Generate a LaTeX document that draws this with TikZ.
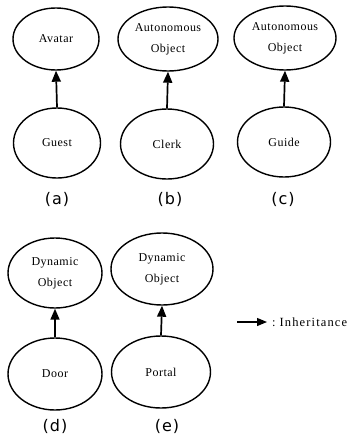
\documentclass[tikz,border=0pt]{standalone}
\usepackage{fontspec}
\setmainfont{Liberation Serif}
\newfontfamily\labfont[LetterSpace=6]{DejaVu Sans}
\newfontfamily\clsfont[LetterSpace=4]{Liberation Serif}
\newfontfamily\legfont[LetterSpace=9]{Liberation Serif}
\usetikzlibrary{arrows.meta,shapes.geometric}
\begin{document}
\begin{tikzpicture}[x=1pt,y=-1pt,
  cls/.style={draw,ellipse,line width=1.4pt,inner sep=0pt,align=center,font=\clsfont\fontsize{12}{21}\selectfont},
  inh/.style={line width=1.7pt,-{Triangle[length=11pt,width=9pt]}},
  sub/.style={font=\labfont\fontsize{16}{16}\selectfont}]
\useasboundingbox (0,0) rectangle (358,434);
% (a)
\node[cls,minimum width=86pt,minimum height=62pt] (avatar) at (56,39) {Avatar};
\node[cls,minimum width=87pt,minimum height=70pt] (guest) at (57,143) {Guest};
\draw[inh] (guest.north) -- (avatar.south);
\node[sub] (la) at (57,199) {(a)};
% (b)
\node[cls,minimum width=100pt,minimum height=64pt] (auto1) at (168,39) {Autonomous\\Object};
\node[cls,minimum width=93pt,minimum height=70pt] (clerk) at (167,144) {Clerk};
\draw[inh] (clerk.north) -- (auto1.south);
\node[sub] (lb) at (170,199) {(b)};
% (c)
\node[cls,minimum width=102pt,minimum height=64pt] (auto2) at (285,38) {Autonomous\\Object};
\node[cls,minimum width=93pt,minimum height=70pt] (guide) at (284,142) {Guide};
\draw[inh] (guide.north) -- (auto2.south);
\node[sub] (lc) at (283,199) {(c)};
% (d)
\node[cls,minimum width=94pt,minimum height=70pt] (dyn1) at (55,273) {Dynamic\\Object};
\node[cls,minimum width=94pt,minimum height=72pt] (door) at (55,374) {Door};
\draw[inh] (door.north) -- (dyn1.south);
\node[sub] (ld) at (55,426) {(d)};
% (e)
\node[cls,minimum width=102pt,minimum height=72pt] (dyn2) at (162,269) {Dynamic\\Object};
\node[cls,minimum width=99pt,minimum height=72pt] (portal) at (161,372) {Portal};
\draw[inh] (portal.north) -- (dyn2.south);
\node[sub] (le) at (167,426) {(e)};
% legend
\coordinate (ls) at (237,322);
\coordinate (le2) at (267,322);
\node[anchor=west,font=\legfont\fontsize{12.5}{14}\selectfont,inner sep=0pt] (leg) at (272,322) {:\hspace{4pt}Inheritance};
\draw[line width=1.2pt,-{Triangle[length=10pt,width=8pt]}] (ls) -- (le2);
\end{tikzpicture}
\end{document}
